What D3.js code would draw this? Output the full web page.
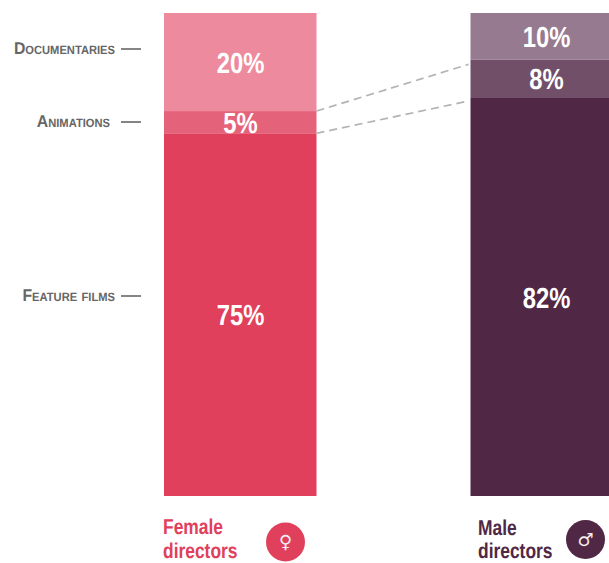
<!DOCTYPE html>
<html><head><meta charset="utf-8">
<script src="https://cdn.jsdelivr.net/npm/d3@7/dist/d3.min.js"></script>
<style>
html,body{margin:0;padding:0;background:#fff;overflow:hidden}
svg{display:block}
text{font-family:"Liberation Sans",Arial,sans-serif;text-rendering:geometricPrecision}
</style></head><body>
<svg id="c" width="609" height="563"></svg>
<script>
const categories = ["Feature films","Animations","Documentaries"];
const groups = ["Female directors","Male directors"];
const femaleValues = [75.1,4.6,20.3];
const maleValues = [82.4,7.9,9.7];
const femaleColors = ["#e0405c","#e5637a","#ee8a9d"];
const maleColors = ["#502744","#714f68","#967a8f"];
const genderSymbols = ["\u2640","\u2642"];

const svg = d3.select("#c");
const y = d3.scaleLinear().domain([0,100]).range([496,13]);
const series = [
  {values:femaleValues,colors:femaleColors,x0:164,w:152.5,lx:240.5,name:["Female","directors"],color:femaleColors[0],tx:163,ty:[533.5,558.4],cx:285.5,cy:542,sym:genderSymbols[0]},
  {values:maleValues,colors:maleColors,x0:470.5,w:160,lx:546.5,name:["Male","directors"],color:maleColors[0],tx:478,ty:[535,558.4],cx:585.5,cy:539.5,sym:genderSymbols[1]}
];
const stackOf = v => { let s=0; return v.map(d=>{const o=[s,s+d]; s+=d; return o;}); };
// narrow text: the font is condensed horizontally around its anchor
const narrow = (sel,x,yy,k) => sel.attr("transform",`translate(${x},${yy}) scale(${k},1)`);

series.forEach(g=>{
  const st = stackOf(g.values);
  g.stack = st;
  svg.append("g").selectAll("rect").data(st).join("rect")
    .attr("x",g.x0).attr("width",g.w)
    .attr("y",d=>y(d[1])).attr("height",d=>y(d[0])-y(d[1]))
    .attr("fill",(d,i)=>g.colors[i]);
  svg.append("g").selectAll("text").data(st).join("text")
    .attr("transform",d=>`translate(${g.lx},${(y(d[0])+y(d[1]))/2+10.5}) scale(0.82,1)`)
    .attr("text-anchor","middle").attr("fill","#fff")
    .attr("font-weight","bold").attr("font-size",29)
    .text((d,i)=>d3.format(".0f")(g.values[i])+"%");
  const t = svg.append("g");
  g.name.forEach((n,i)=>narrow(t.append("text"),g.tx,g.ty[i],0.81)
    .attr("fill",g.color).attr("font-weight","bold").attr("font-size",21.5).text(n));
  svg.append("circle").attr("cx",g.cx).attr("cy",g.cy).attr("r",19.5).attr("fill",g.color);
  svg.append("text").attr("x",g.cx).attr("y",g.cy+6).attr("text-anchor","middle")
    .attr("fill","#f4eef0").attr("font-size",18).style("font-family","'DejaVu Sans'").text(g.sym);
});

// dashed connectors between the bars
const connectorInset = [[0,3],[0,4.5]];
[0,1].forEach(i=>{
  svg.append("line")
    .attr("x1",series[0].x0+series[0].w).attr("y1",y(series[0].stack[i][1])+connectorInset[i][0])
    .attr("x2",series[1].x0-2).attr("y2",y(series[1].stack[i][1])+connectorInset[i][1])
    .attr("stroke","#b3b3b3").attr("stroke-width",1.7).attr("stroke-dasharray","8 5");
});

// category labels
const labelY = [296,122,49];
const labelEnd = [115,110,115];
const tickX = [[121,141],[121,141],[121,141]];
categories.forEach((c,i)=>{
  narrow(svg.append("text"),labelEnd[i],labelY[i]+5,0.93).attr("text-anchor","end")
    .attr("fill","#666").attr("font-weight","bold").attr("font-size",17)
    .style("font-variant","small-caps").text(c);
  svg.append("line").attr("x1",tickX[i][0]).attr("x2",tickX[i][1]).attr("y1",labelY[i]).attr("y2",labelY[i])
    .attr("stroke","#666").attr("stroke-width",1.6);
});
</script></body></html>
